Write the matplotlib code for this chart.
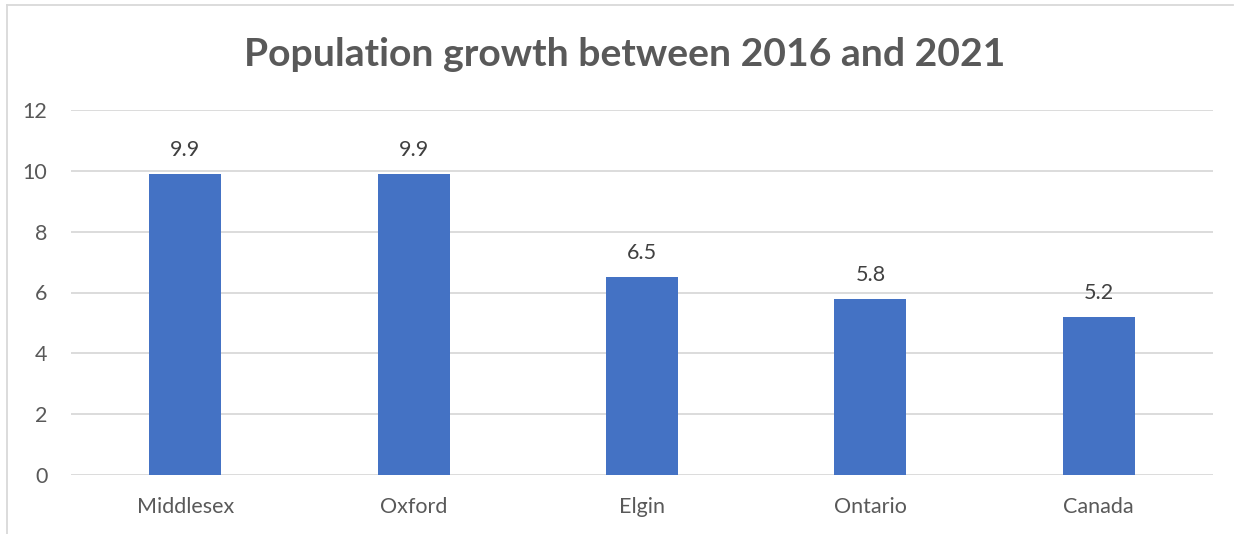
import matplotlib.pyplot as plt
from matplotlib.lines import Line2D

# population growth, percent, 2016 -> 2021
regions = ['Middlesex', 'Oxford', 'Elgin', 'Ontario', 'Canada']
growth = [9.9, 9.9, 6.5, 5.8, 5.2]
yticks = [0, 2, 4, 6, 8, 10, 12]

plt.rcParams['font.family'] = ['Lato', 'DejaVu Sans']
txt = '#595959'
W, H = 1238, 534

fig = plt.figure(figsize=(W / 100, H / 100), dpi=100)
# plot area in pixel coords: x 71..1213, y 110..475 (from top)
ax = fig.add_axes([71 / W, 1 - 475 / H, (1213 - 71) / W, (475 - 110) / H])

x = range(len(regions))
ax.bar(x, growth, width=0.315, color='#4472C4', zorder=3)
for i, v in zip(x, growth):
    ax.annotate(f'{v}', (i, v), xytext=(0, 10), textcoords='offset points',
                ha='center', va='bottom', fontsize=15.5, color='#404040')

ax.set_xlim(-0.5, len(regions) - 0.5)
ax.set_ylim(0, 12)
ax.set_yticks(yticks)
ax.set_xticks(list(x))
ax.set_xticklabels(regions)
ax.tick_params(axis='both', length=0, labelsize=15.5, colors=txt)
ax.tick_params(axis='y', pad=17)
ax.tick_params(axis='x', pad=16)
ax.grid(axis='y', color='#D9D9D9', linewidth=1.3, zorder=0)
for s in ax.spines.values():
    s.set_visible(False)

fig.text(0.5 * (245 + 1005) / W, 1 - 54 / H, 'Population growth between 2016 and 2021',
         ha='center', va='center', fontsize=28.2, fontweight='bold', color=txt)

# chart frame (top and left edges)
fig.add_artist(Line2D([7 / W, 1233 / W], [1 - 5 / H, 1 - 5 / H], color='#D9D9D9', lw=1.3))
fig.add_artist(Line2D([7 / W, 7 / W], [1 - 5 / H, 0], color='#D9D9D9', lw=1.3))

fig.savefig('out.png', dpi=100)
